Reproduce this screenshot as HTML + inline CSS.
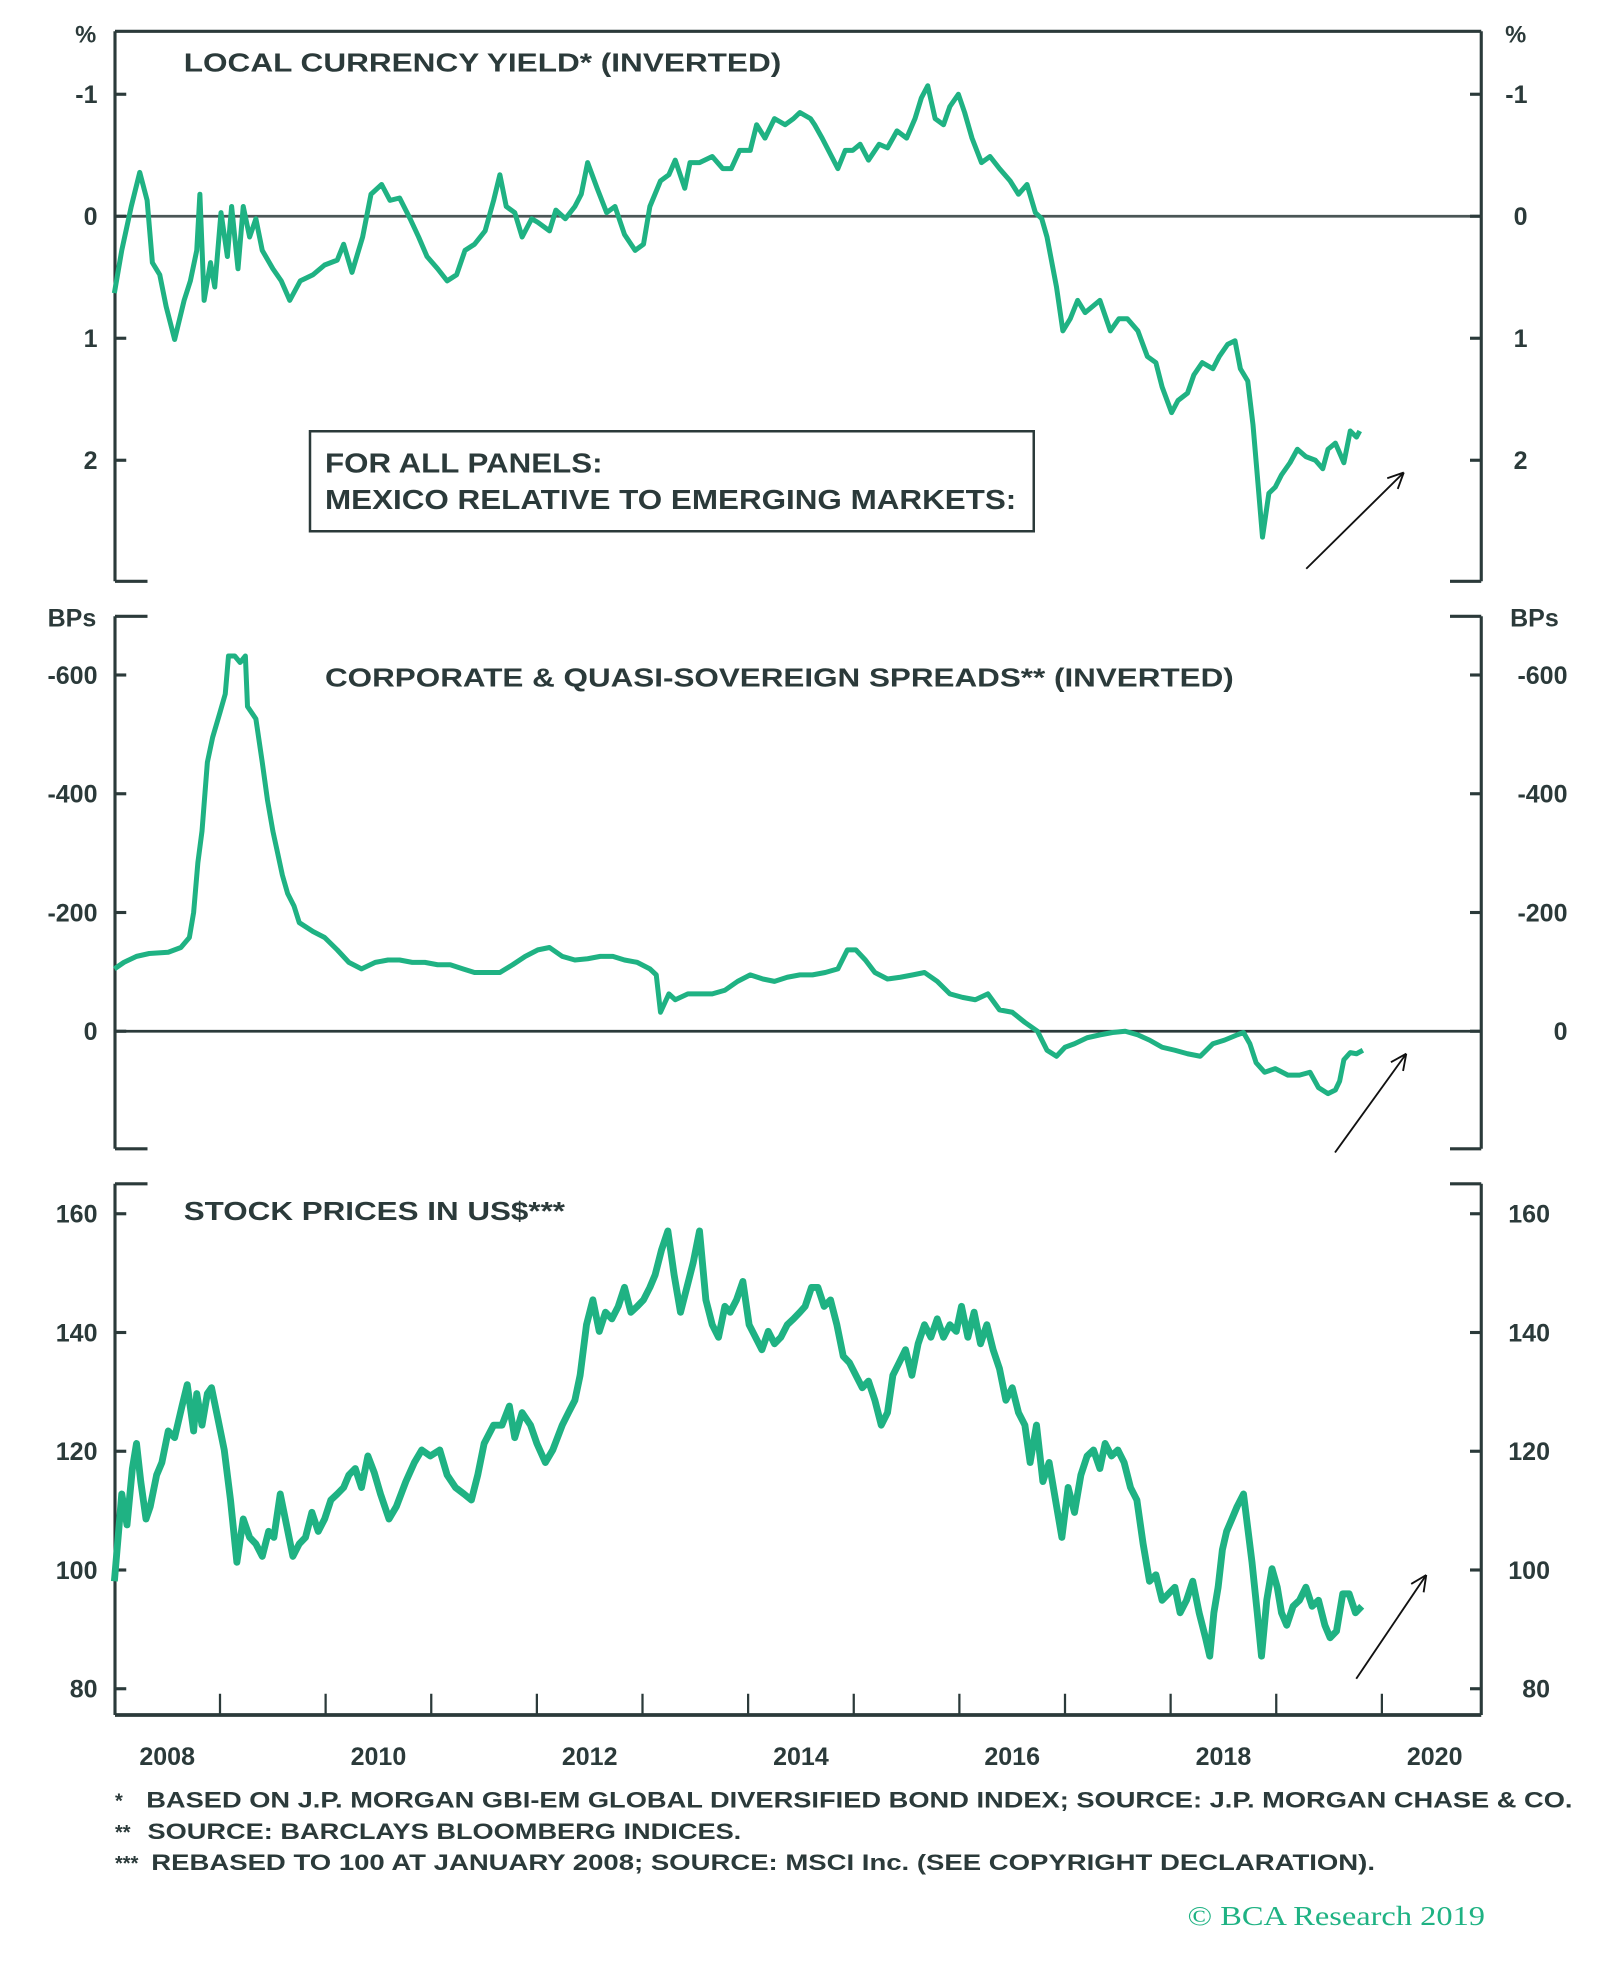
<!DOCTYPE html>
<html><head><meta charset="utf-8">
<style>
html,body{margin:0;padding:0;background:#fff;}
svg{display:block;}
text{font-family:"Liberation Sans",sans-serif;fill:#2b3a3a;}
</style></head>
<body>
<svg id="chart" width="1600" height="1966" viewBox="0 0 1280 1572.8" xmlns="http://www.w3.org/2000/svg">
<g id="frames"></g>
<g id="marks"></g>
<g id="labels"></g>
<text x="147" y="57" font-size="21" font-weight="bold" textLength="478" lengthAdjust="spacingAndGlyphs">LOCAL CURRENCY YIELD* (INVERTED)</text>
<text x="260" y="549" font-size="21" font-weight="bold" textLength="727" lengthAdjust="spacingAndGlyphs">CORPORATE &amp; QUASI-SOVEREIGN SPREADS** (INVERTED)</text>
<text x="147" y="976" font-size="21" font-weight="bold" textLength="305" lengthAdjust="spacingAndGlyphs">STOCK PRICES IN US$***</text>
<g>
<rect x="248" y="345" width="579" height="80" fill="#fff" stroke="#2b3a3a" stroke-width="2"/>
<text x="260" y="378" font-size="22" font-weight="bold" textLength="222" lengthAdjust="spacingAndGlyphs">FOR ALL PANELS:</text>
<text x="260" y="407" font-size="22" font-weight="bold" textLength="553" lengthAdjust="spacingAndGlyphs">MEXICO RELATIVE TO EMERGING MARKETS:</text>
</g>
<g font-size="18" font-weight="bold">
<text x="92" y="1446" font-size="16">*</text>
<text x="117" y="1446" textLength="1141" lengthAdjust="spacingAndGlyphs">BASED ON J.P. MORGAN GBI-EM GLOBAL DIVERSIFIED BOND INDEX; SOURCE: J.P. MORGAN CHASE &amp; CO.</text>
<text x="92" y="1471" font-size="16">**</text>
<text x="118" y="1471" textLength="475" lengthAdjust="spacingAndGlyphs">SOURCE: BARCLAYS BLOOMBERG INDICES.</text>
<text x="92" y="1496" font-size="16">***</text>
<text x="121" y="1496" textLength="979" lengthAdjust="spacingAndGlyphs">REBASED TO 100 AT JANUARY 2008; SOURCE: MSCI Inc. (SEE COPYRIGHT DECLARATION).</text>
</g>
<text x="950" y="1540" font-size="22" style="font-family:'Liberation Serif',serif;fill:#1fb283" textLength="238" lengthAdjust="spacingAndGlyphs">© BCA Research 2019</text>
</svg>
<script>
const yieldDates=[2008.00,2008.07,2008.16,2008.24,2008.31,2008.36,2008.43,2008.49,2008.57,2008.66,2008.72,2008.78,2008.81,2008.85,2008.91,2008.95,2009.01,2009.07,2009.11,2009.17,2009.22,2009.28,2009.34,2009.40,2009.50,2009.58,2009.66,2009.76,2009.88,2009.99,2010.11,2010.17,2010.25,2010.35,2010.43,2010.53,2010.61,2010.70,2010.80,2010.88,2010.96,2011.06,2011.15,2011.24,2011.32,2011.41,2011.51,2011.59,2011.65,2011.71,2011.79,2011.86,2011.95,2012.01,2012.12,2012.18,2012.27,2012.36,2012.42,2012.48,2012.57,2012.66,2012.74,2012.83,2012.93,2013.01,2013.07,2013.17,2013.25,2013.31,2013.40,2013.45,2013.54,2013.66,2013.76,2013.84,2013.92,2014.02,2014.08,2014.16,2014.25,2014.35,2014.43,2014.49,2014.59,2014.63,2014.70,2014.79,2014.85,2014.92,2014.99,2015.06,2015.14,2015.24,2015.32,2015.41,2015.50,2015.58,2015.64,2015.70,2015.77,2015.85,2015.91,2015.99,2016.05,2016.12,2016.21,2016.29,2016.38,2016.48,2016.56,2016.64,2016.72,2016.78,2016.83,2016.92,2016.98,2017.05,2017.12,2017.19,2017.26,2017.33,2017.43,2017.51,2017.59,2017.69,2017.78,2017.86,2017.92,2018.01,2018.07,2018.16,2018.22,2018.30,2018.40,2018.46,2018.54,2018.61,2018.66,2018.73,2018.78,2018.82,2018.87,2018.93,2018.99,2019.05,2019.13,2019.20,2019.28,2019.37,2019.44,2019.49,2019.56,2019.64,2019.70,2019.76,2019.79];
const yieldValues=[0.63,0.28,-0.08,-0.36,-0.13,0.38,0.48,0.74,1.01,0.69,0.53,0.28,-0.18,0.69,0.38,0.58,-0.03,0.33,-0.08,0.43,-0.08,0.17,0.02,0.28,0.43,0.53,0.69,0.53,0.48,0.40,0.36,0.23,0.46,0.17,-0.18,-0.26,-0.13,-0.15,0.02,0.17,0.33,0.43,0.53,0.48,0.28,0.23,0.12,-0.13,-0.34,-0.08,-0.03,0.17,0.02,0.05,0.12,-0.05,0.02,-0.08,-0.18,-0.44,-0.23,-0.03,-0.08,0.15,0.28,0.23,-0.08,-0.29,-0.34,-0.46,-0.23,-0.44,-0.44,-0.49,-0.39,-0.39,-0.54,-0.54,-0.75,-0.64,-0.80,-0.75,-0.80,-0.85,-0.80,-0.75,-0.64,-0.49,-0.39,-0.54,-0.54,-0.59,-0.46,-0.59,-0.56,-0.70,-0.64,-0.80,-0.97,-1.07,-0.80,-0.75,-0.90,-1.00,-0.85,-0.64,-0.44,-0.49,-0.39,-0.29,-0.18,-0.26,-0.03,0.02,0.17,0.58,0.94,0.84,0.69,0.79,0.74,0.69,0.94,0.84,0.84,0.94,1.15,1.20,1.40,1.61,1.51,1.45,1.30,1.20,1.25,1.15,1.05,1.02,1.25,1.35,1.71,2.12,2.63,2.27,2.22,2.12,2.02,1.91,1.97,2.00,2.07,1.91,1.86,2.02,1.76,1.81,1.76];
const yieldTicks=[-1,0,1,2];
const spreadDates=[2008.00,2008.09,2008.21,2008.33,2008.51,2008.63,2008.71,2008.75,2008.79,2008.83,2008.88,2008.93,2009.00,2009.05,2009.08,2009.14,2009.19,2009.24,2009.26,2009.34,2009.40,2009.45,2009.50,2009.54,2009.59,2009.64,2009.70,2009.75,2009.88,2009.99,2010.11,2010.22,2010.34,2010.47,2010.59,2010.70,2010.82,2010.94,2011.06,2011.18,2011.30,2011.41,2011.53,2011.65,2011.77,2011.89,2012.01,2012.12,2012.24,2012.36,2012.48,2012.60,2012.72,2012.83,2012.95,2013.07,2013.13,2013.17,2013.25,2013.31,2013.43,2013.54,2013.66,2013.78,2013.90,2014.02,2014.14,2014.25,2014.37,2014.49,2014.61,2014.73,2014.85,2014.94,2015.02,2015.11,2015.20,2015.32,2015.44,2015.56,2015.67,2015.79,2015.91,2016.03,2016.15,2016.27,2016.38,2016.50,2016.62,2016.74,2016.83,2016.92,2017.00,2017.09,2017.21,2017.33,2017.45,2017.57,2017.69,2017.80,2017.92,2018.04,2018.16,2018.28,2018.40,2018.51,2018.63,2018.69,2018.75,2018.81,2018.89,2018.99,2019.11,2019.22,2019.32,2019.40,2019.49,2019.56,2019.60,2019.64,2019.70,2019.76,2019.82];
const spreadValues=[-105,-116,-126,-131,-133,-141,-158,-200,-284,-337,-453,-495,-537,-568,-632,-632,-621,-632,-547,-526,-453,-389,-337,-305,-263,-232,-211,-183,-168,-158,-137,-116,-105,-116,-120,-120,-116,-116,-112,-112,-105,-99,-99,-99,-112,-126,-137,-141,-126,-120,-122,-126,-126,-120,-116,-105,-95,-32,-63,-53,-63,-63,-63,-69,-84,-95,-88,-84,-91,-95,-95,-99,-105,-137,-137,-120,-99,-88,-91,-95,-99,-84,-63,-57,-53,-63,-36,-32,-15,0,32,42,27,21,11,6,2,0,6,15,27,32,38,42,21,15,6,2,21,53,69,63,74,74,69,95,105,99,84,48,36,38,32];
const spreadTicks=[-600,-400,-200,0];
const stockDates=[2008.00,2008.04,2008.07,2008.12,2008.17,2008.21,2008.25,2008.30,2008.34,2008.40,2008.45,2008.51,2008.57,2008.64,2008.69,2008.75,2008.78,2008.83,2008.88,2008.92,2008.98,2009.04,2009.10,2009.16,2009.22,2009.28,2009.34,2009.40,2009.46,2009.51,2009.57,2009.63,2009.69,2009.75,2009.81,2009.87,2009.93,2009.99,2010.05,2010.11,2010.17,2010.22,2010.28,2010.34,2010.40,2010.46,2010.52,2010.60,2010.67,2010.76,2010.84,2010.91,2010.99,2011.08,2011.15,2011.23,2011.31,2011.38,2011.44,2011.50,2011.59,2011.67,2011.74,2011.79,2011.86,2011.94,2012.00,2012.08,2012.15,2012.24,2012.30,2012.36,2012.41,2012.47,2012.53,2012.59,2012.65,2012.71,2012.77,2012.83,2012.89,2012.95,2013.01,2013.07,2013.12,2013.18,2013.24,2013.30,2013.36,2013.42,2013.48,2013.54,2013.60,2013.66,2013.72,2013.78,2013.83,2013.89,2013.95,2014.01,2014.07,2014.13,2014.19,2014.25,2014.31,2014.37,2014.43,2014.49,2014.54,2014.60,2014.66,2014.72,2014.78,2014.84,2014.90,2014.96,2015.02,2015.08,2015.14,2015.20,2015.26,2015.32,2015.37,2015.43,2015.49,2015.55,2015.61,2015.67,2015.73,2015.79,2015.85,2015.91,2015.97,2016.02,2016.08,2016.14,2016.20,2016.26,2016.32,2016.38,2016.44,2016.50,2016.56,2016.62,2016.67,2016.73,2016.79,2016.85,2016.91,2016.97,2017.03,2017.09,2017.15,2017.21,2017.27,2017.33,2017.38,2017.44,2017.50,2017.56,2017.62,2017.68,2017.74,2017.80,2017.86,2017.92,2017.98,2018.04,2018.09,2018.15,2018.21,2018.27,2018.33,2018.37,2018.41,2018.45,2018.49,2018.53,2018.58,2018.63,2018.69,2018.72,2018.77,2018.82,2018.86,2018.91,2018.96,2019.01,2019.05,2019.10,2019.16,2019.22,2019.28,2019.34,2019.40,2019.46,2019.51,2019.57,2019.63,2019.69,2019.75,2019.81];
const stockValues=[98.1,106.5,112.8,107.6,117.1,121.3,114.9,108.6,110.7,116.0,118.1,123.4,122.3,127.6,131.2,123.4,129.7,124.4,129.7,130.7,125.5,120.2,111.8,101.3,108.6,105.5,104.4,102.3,106.5,105.5,112.8,107.6,102.3,104.4,105.5,109.7,106.5,108.6,111.8,112.8,113.9,116.0,117.1,113.9,119.2,116.4,112.8,108.6,110.7,114.9,118.1,120.2,119.2,120.2,116.0,113.9,112.8,111.8,116.0,121.3,124.4,124.4,127.6,122.3,126.5,124.4,121.3,118.1,120.2,124.4,126.5,128.6,132.8,141.3,145.5,140.2,143.4,142.3,144.4,147.6,143.4,144.4,145.5,147.6,149.7,153.9,157.1,149.7,143.4,147.6,151.8,157.1,145.5,141.3,139.2,144.4,143.4,145.5,148.6,141.3,139.2,137.1,140.2,138.1,139.2,141.3,142.3,143.4,144.4,147.6,147.6,144.4,145.5,141.3,136.0,134.9,132.8,130.7,131.8,128.6,124.4,126.5,132.8,134.9,137.1,132.8,138.1,141.3,139.2,142.3,139.2,141.3,140.2,144.4,139.2,143.4,138.1,141.3,137.1,133.9,128.6,130.7,126.5,124.4,118.1,124.4,114.9,118.1,111.8,105.5,113.9,109.7,116.0,119.2,120.2,117.1,121.3,119.2,120.2,118.1,113.9,111.8,104.4,98.1,99.2,94.9,96.0,97.1,92.8,94.9,98.1,92.8,88.6,85.5,92.8,97.1,103.4,106.5,108.6,110.7,112.8,108.6,101.3,92.8,85.5,94.9,100.2,97.1,92.8,90.7,93.9,94.9,97.1,93.9,94.9,90.7,88.6,89.7,96.0,96.0,92.8,93.9];
const stockTicks=[80,100,120,140,160];
const yearLabels=[2008,2010,2012,2014,2016,2018,2020];

const NS='http://www.w3.org/2000/svg';
const L=92,R=1185;
function xs(t){return 176+(t-2009)*84.5;}
const p1={top:25,bot:465,y:v=>173+v*97.6,lab:78,rlab:1222};
const p2={top:493,bot:919,y:v=>825+v*0.475,lab:78,rlab:1254};
const p3={top:947,bot:1372,y:v=>1256-(v-100)*4.75,lab:78,rlab:1240};
const AX='#2b3a3a';
function mk(tag,attrs,parent){const e=document.createElementNS(NS,tag);for(const k in attrs)e.setAttribute(k,attrs[k]);parent.appendChild(e);return e;}
const F=document.getElementById('frames'),M=document.getElementById('marks'),T=document.getElementById('labels');
function line(x1,y1,x2,y2,name,w,c){const e=mk('line',{x1:x1,y1:y1,x2:x2,y2:y2,stroke:c||AX,'stroke-width':w||2.5},F);

return e;}
line(L,p1.top,R,p1.top,'panel1-top-border');
line(L,p1.top,L,p1.bot,'panel1-left-axis');line(R,p1.top,R,p1.bot,'panel1-right-axis');
line(L,p1.bot,118,p1.bot,'panel1-bottom-left-cap');line(1160,p1.bot,R,p1.bot,'panel1-bottom-right-cap');
line(L,p2.top,118,p2.top,'panel2-top-left-cap');line(1160,p2.top,R,p2.top,'panel2-top-right-cap');
line(L,p2.top,L,p2.bot,'panel2-left-axis');line(R,p2.top,R,p2.bot,'panel2-right-axis');
line(L,p2.bot,118,p2.bot,'panel2-bottom-left-cap');line(1160,p2.bot,R,p2.bot,'panel2-bottom-right-cap');
line(L,p3.top,118,p3.top,'panel3-top-left-cap');line(1160,p3.top,R,p3.top,'panel3-top-right-cap');
line(L,p3.top,L,p3.bot,'panel3-left-axis');line(R,p3.top,R,p3.bot,'panel3-right-axis');
line(L,p3.bot,R,p3.bot,'x-axis-line',3);
for(let yr=2009;yr<=2020;yr++){line(xs(yr),p3.bot-17,xs(yr),p3.bot,'x-tick',1.8);}
line(L,p1.y(0),R,p1.y(0),'panel1-zero-line',2.2,'#4a5656');
line(L,p2.y(0),R,p2.y(0),'panel2-zero-line',2.2,'#2b3a3a');
function txt(x,y,s,anchor,name,size){const e=mk('text',{x:x,y:y,'text-anchor':anchor,'font-size':size||20,'font-weight':'bold'},T);e.textContent=s;

return e;}
function ticks(p,arr,fmt,pn){arr.forEach(v=>{const y=p.y(v);line(L,y,L+9,y,pn+'-left-tick');line(R-9,y,R,y,pn+'-right-tick');
txt(p.lab,y+7,fmt(v),'end',pn+'-left-tick-label');txt(p.rlab,y+7,fmt(v),'end',pn+'-right-tick-label');});}
ticks(p1,yieldTicks,v=>String(v),'panel1');
ticks(p2,spreadTicks,v=>String(v),'panel2');
ticks(p3,stockTicks,v=>String(v),'panel3');
txt(77,34,'%','end','panel1-left-unit',19);txt(1221,34,'%','end','panel1-right-unit',19);
txt(77,501,'BPs','end','panel2-left-unit',20);txt(1247,501,'BPs','end','panel2-right-unit',20);
yearLabels.forEach(yr=>{txt(xs(yr+0.5),1412,String(yr),'middle','x-year-label',20);});
function series(dates,vals,p,name,w){let d='';dates.forEach((t,i)=>{d+=(i?'L':'M')+xs(t).toFixed(1)+' '+p.y(vals[i]).toFixed(1);});
const e=mk('path',{d:d,fill:'none',stroke:'#1fb283','stroke-width':w,'stroke-linejoin':'round'},M);

}
series(yieldDates,yieldValues,p1,'yield-line',4);
series(spreadDates,spreadValues,p2,'spread-line',4);
series(stockDates,stockValues,p3,'stock-line',5.5);
function arrow(x1,y1,x2,y2,name){const g=mk('g',{},F);


mk('line',{x1:x1,y1:y1,x2:x2,y2:y2,stroke:'#111','stroke-width':1.5},g);
const a=Math.atan2(y2-y1,x2-x1),h=14;
[a+2.7,a-2.7].forEach(b=>mk('line',{x1:x2,y1:y2,x2:x2+h*Math.cos(b),y2:y2+h*Math.sin(b),stroke:'#111','stroke-width':1.5},g));}
arrow(1045,455,1123,378,'panel1-up-arrow');
arrow(1068,922,1125,843,'panel2-up-arrow');
arrow(1085,1343,1141,1260,'panel3-up-arrow');
</script>
</body></html>
